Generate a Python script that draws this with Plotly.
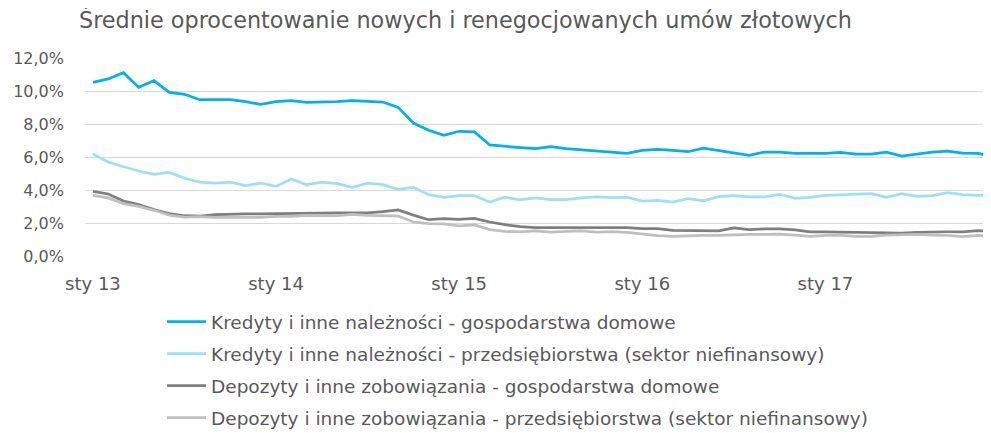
import plotly.graph_objects as go

months_pl = ["sty", "lut", "mar", "kwi", "maj", "cze", "lip", "sie", "wrz", "paź", "lis", "gru"]
years = ["13", "14", "15", "16", "17"]
categories = [f"{m} {y}" for y in years for m in months_pl]
tick_labels = ["sty 13", "sty 14", "sty 15", "sty 16", "sty 17"]

kredyty_gd = [10.52, 10.73, 11.11, 10.22, 10.63, 9.92, 9.80, 9.47, 9.47, 9.47, 9.35, 9.19,
              9.35, 9.41, 9.31, 9.31, 9.35, 9.41, 9.35, 9.33, 9.01, 8.06, 7.62, 7.31,
              7.56, 7.52, 6.73, 6.63, 6.57, 6.51, 6.63, 6.51, 6.44, 6.38, 6.32, 6.22,
              6.40, 6.46, 6.40, 6.32, 6.53, 6.40, 6.24, 6.10, 6.30, 6.30, 6.22, 6.22,
              6.22, 6.28, 6.18, 6.18, 6.30, 6.06, 6.18, 6.30, 6.36, 6.24, 6.22, 6.06]
kredyty_przeds = [6.18, 5.70, 5.41, 5.15, 4.95, 5.07, 4.71, 4.48, 4.42, 4.48, 4.26, 4.42,
                  4.22, 4.67, 4.32, 4.48, 4.38, 4.16, 4.42, 4.32, 4.04, 4.16, 3.72, 3.56,
                  3.66, 3.66, 3.27, 3.56, 3.41, 3.52, 3.41, 3.41, 3.52, 3.58, 3.54, 3.56,
                  3.33, 3.37, 3.27, 3.47, 3.35, 3.60, 3.66, 3.58, 3.58, 3.74, 3.49, 3.56,
                  3.68, 3.72, 3.74, 3.78, 3.56, 3.78, 3.62, 3.66, 3.84, 3.72, 3.68, 3.72]
depozyty_gd = [3.92, 3.76, 3.33, 3.11, 2.81, 2.57, 2.44, 2.42, 2.51, 2.55, 2.55, 2.55,
               2.57, 2.57, 2.61, 2.61, 2.61, 2.61, 2.61, 2.69, 2.79, 2.48, 2.20, 2.26,
               2.22, 2.28, 2.06, 1.90, 1.78, 1.72, 1.72, 1.72, 1.72, 1.72, 1.72, 1.72,
               1.66, 1.66, 1.56, 1.56, 1.52, 1.52, 1.70, 1.60, 1.64, 1.64, 1.58, 1.47,
               1.47, 1.47, 1.43, 1.41, 1.39, 1.39, 1.43, 1.47, 1.47, 1.47, 1.54, 1.47]
depozyty_przeds = [3.68, 3.52, 3.17, 3.01, 2.77, 2.48, 2.36, 2.38, 2.34, 2.34, 2.38, 2.34,
                   2.40, 2.40, 2.46, 2.44, 2.44, 2.53, 2.46, 2.44, 2.42, 2.06, 1.96, 1.94,
                   1.82, 1.88, 1.60, 1.49, 1.47, 1.52, 1.45, 1.49, 1.52, 1.45, 1.47, 1.43,
                   1.31, 1.23, 1.19, 1.23, 1.25, 1.25, 1.29, 1.31, 1.31, 1.33, 1.27, 1.19,
                   1.25, 1.25, 1.19, 1.19, 1.27, 1.29, 1.31, 1.27, 1.25, 1.17, 1.25, 1.19]

series = [
    ("Kredyty i inne należności - gospodarstwa domowe", kredyty_gd, "#00B0F0"),
    ("Kredyty i inne należności - przedsiębiorstwa (sektor niefinansowy)", kredyty_przeds, "#9DDFFB"),
    ("Depozyty i inne zobowiązania - gospodarstwa domowe", depozyty_gd, "#7F7F7F"),
    ("Depozyty i inne zobowiązania - przedsiębiorstwa (sektor niefinansowy)", depozyty_przeds, "#BFBFBF"),
]

FONT = "DejaVu Sans"
fig = go.Figure()
for i, (name, vals, color) in enumerate(series):
    fig.add_trace(go.Scatter(
        x=categories, y=vals, name=name, mode="lines",
        line=dict(color=color, width=2.75),
        legendgroup=f"g{i}",
    ))

# page body has an 8px margin, so figure coordinates are offset by 8px
fig.update_layout(
    width=991, height=433,
    margin=dict(l=77, r=8, t=50, b=185, autoexpand=False),
    paper_bgcolor="white", plot_bgcolor="white",
    font=dict(family=FONT, color="#595959"),
    title=dict(text="Średnie oprocentowanie nowych i renegocjowanych umów złotowych",
               x=71 / 991, xanchor="left", y=1 - 12 / 433, yanchor="middle",
               font=dict(size=22.3, color="#595959", family=FONT)),
    showlegend=True,
    legend=dict(x=(154 - 77) / 906, y=(248 - 295) / 198, xanchor="left", yanchor="top",
                font=dict(size=18.5, color="#595959", family=FONT),
                tracegroupgap=5, itemwidth=39, bgcolor="rgba(0,0,0,0)"),
)
fig.update_xaxes(
    type="category", range=[-0.52, 58.85],
    tickmode="array", tickvals=tick_labels, ticktext=tick_labels,
    showgrid=False, zeroline=False, showline=False, ticks="",
    tickfont=dict(size=18, color="#595959", family=FONT),
    ticklabelstandoff=15,
)
fig.update_yaxes(
    range=[0, 12], tickvals=[0, 2, 4, 6, 8, 10, 12],
    ticktext=["0,0%", "2,0%", "4,0%", "6,0%", "8,0%", "10,0%", "12,0%"],
    showgrid=True, gridcolor="#D9D9D9", gridwidth=1, zeroline=False, showline=False,
    tickfont=dict(size=16, color="#595959", family=FONT),
    ticklabelstandoff=20,
)
fig.write_html("out.html")
